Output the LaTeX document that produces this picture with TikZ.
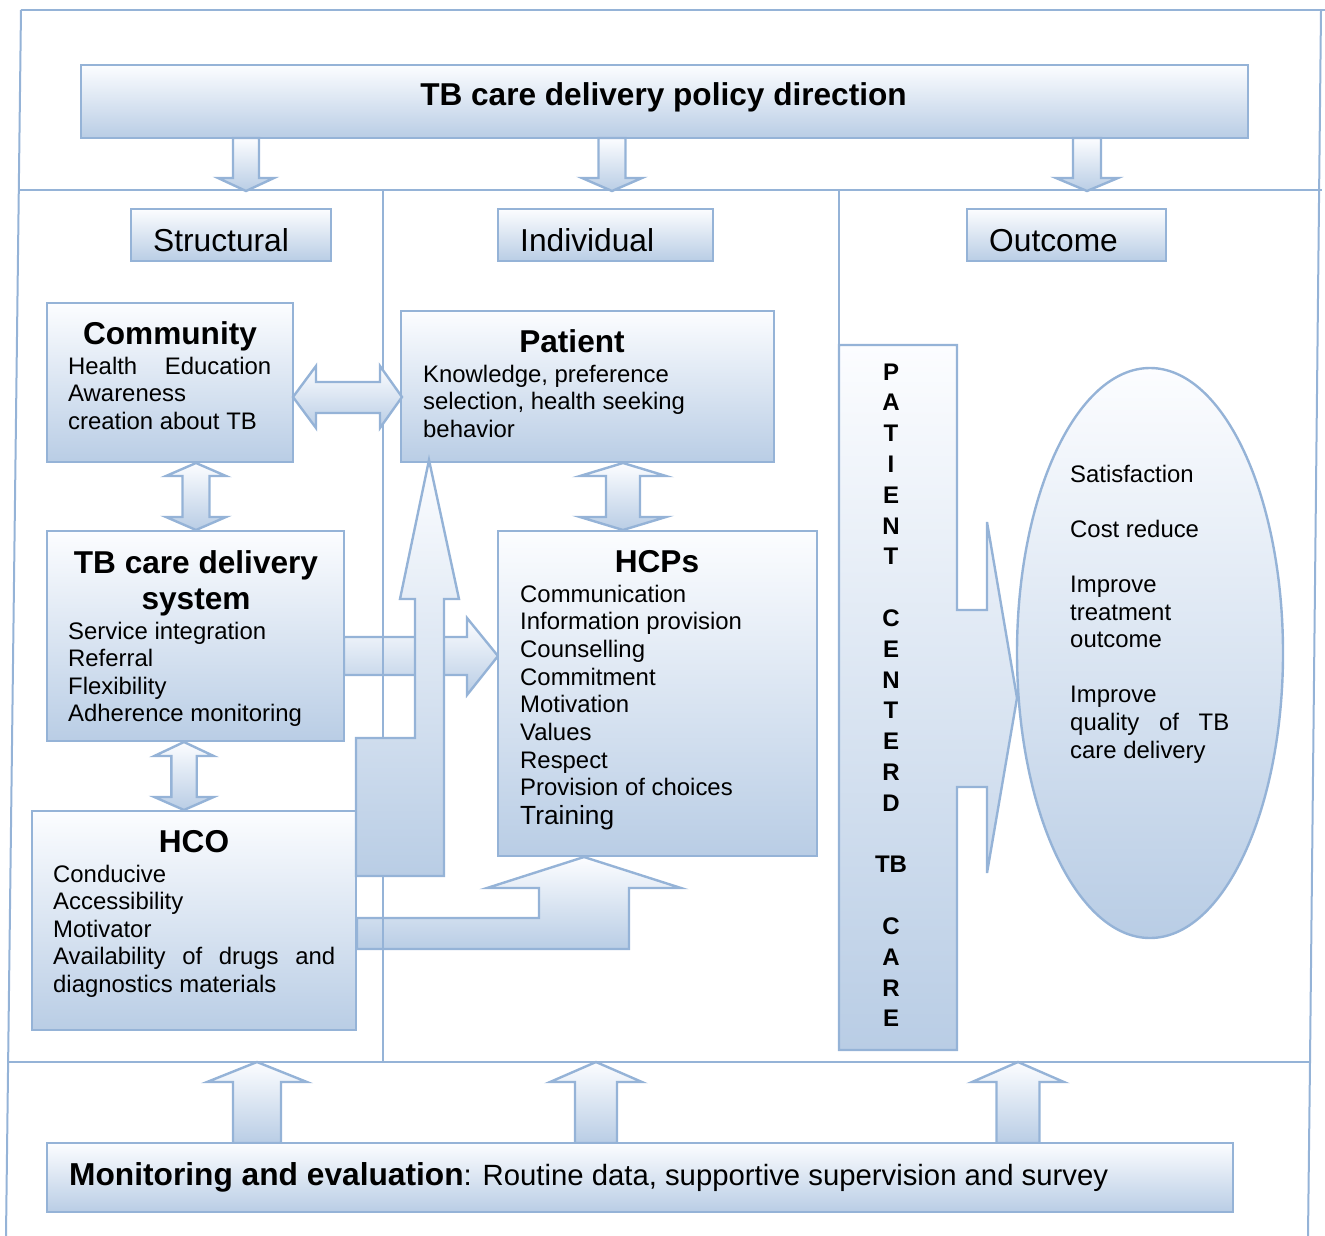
\documentclass[tikz,border=0pt]{standalone}
\usepackage{fontspec}
\setmainfont{Liberation Sans}
\definecolor{bfill}{RGB}{185,205,229}
\definecolor{bline}{RGB}{149,179,215}
\definecolor{btop}{RGB}{252,253,255}
\tikzset{
  grad/.style={top color=btop, bottom color=bfill, draw=bline, line width=2.4pt},
  boxnode/.style={grad, rectangle, inner sep=0pt, outer sep=0pt, anchor=north west},
  frameline/.style={draw=bline, line width=2pt},
  bodytxt/.style={inner sep=0pt, anchor=base west, font=\fontsize{23.9}{27.6}\selectfont},
  titletxt/.style={inner sep=0pt, anchor=base, font=\fontsize{31.6}{36}\selectfont\bfseries},
  headtxt/.style={inner sep=0pt, anchor=base west, font=\fontsize{31.7}{36}\selectfont}
}
% straight block arrow: cx, shaft end y, head base y, tip y, shaft half width, head half width
\newcommand{\vsarrow}[6]{%
  \draw[grad] (#1-#5,#2) -- (#1+#5,#2) -- (#1+#5,#3) -- (#1+#6,#3) -- (#1,#4) -- (#1-#6,#3) -- (#1-#5,#3) -- cycle;}
% vertical double block arrow: cx, tip1, base1, base2, tip2, shaft half, head half
\newcommand{\vdarrow}[7]{%
  \draw[grad] (#1,#2) -- (#1+#7,#3) -- (#1+#6,#3) -- (#1+#6,#4) -- (#1+#7,#4) -- (#1,#5) -- (#1-#7,#4) -- (#1-#6,#4) -- (#1-#6,#3) -- (#1-#7,#3) -- cycle;}
\begin{document}
\begin{tikzpicture}[x=1pt,y=-1pt]
\useasboundingbox (0,0) rectangle (1325,1236);

% arrows lying under the divider line
\draw[grad] (344,637) -- (467,637) -- (467,618) -- (498,656) -- (467,695) -- (467,675) -- (344,675) -- cycle;
\draw[grad] (357,918) -- (539,918) -- (539,888) -- (487,888) -- (584,857) -- (681,888) -- (629,888) -- (629,949) -- (357,949) -- cycle;

% frame and dividers
\draw[frameline] (21,10) -- (6,1236);
\draw[frameline] (21,10) -- (1325,10);
\draw[frameline] (1321,10) -- (1310,1062) -- (1308,1236);
\draw[frameline] (19,190) -- (1322,190);
\draw[frameline] (8,1062) -- (1310,1062);
\draw[frameline] (383,190) -- (383,1062);
\draw[frameline] (839,190) -- (839,345);

% policy box and header boxes
\node[boxnode, minimum width=1167pt, minimum height=73pt] (policy) at (81,65) {};
\node[titletxt] (policyT) at (663.5,106) {TB care delivery policy direction};
\vsarrow{246}{138}{178}{191}{13}{28}
\vsarrow{612}{138}{178}{191}{13.5}{30}
\vsarrow{1087}{138}{178}{191}{14}{31}

\node[boxnode, minimum width=200pt, minimum height=52pt] (structural) at (131,209) {};
\node[headtxt] (structuralT) at (153,251) {Structural};
\node[boxnode, minimum width=215pt, minimum height=52pt] (individual) at (498,209) {};
\node[headtxt] (individualT) at (520,251) {Individual};
\node[boxnode, minimum width=199pt, minimum height=52pt] (outcome) at (967,209) {};
\node[headtxt] (outcomeT) at (989,251) {Outcome};

% community
\node[boxnode, minimum width=246pt, minimum height=159pt] (community) at (47,303) {};
\node[titletxt] (communityT) at (170,344) {Community};
\node[bodytxt] (communityB) at (68,374) {\parbox[t]{203pt}{Health\hfill Education\\Awareness\\creation about TB}};

% patient
\node[boxnode, minimum width=373pt, minimum height=151pt] (patient) at (401,311) {};
\node[titletxt] (patientT) at (572,352) {Patient};
\node[bodytxt] (patientB) at (423,382) {\parbox[t]{340pt}{Knowledge, preference\\selection, health seeking\\behavior}};

% community <-> patient
\draw[grad] (293,397) -- (316,366) -- (316,382) -- (380,382) -- (380,366) -- (402,397) -- (380,428) -- (380,413) -- (316,413) -- (316,428) -- cycle;

% TB care delivery system
\node[boxnode, minimum width=297pt, minimum height=210pt] (tbcare) at (47,531) {};
\node[titletxt] (tbcareT) at (196,573) {\parbox[t]{300pt}{\centering\baselineskip=36pt TB care delivery\\system}};
\node[bodytxt] (tbcareB) at (68,639) {\parbox[t]{270pt}{Service integration\\Referral\\Flexibility\\Adherence monitoring}};

% HCO
\node[boxnode, minimum width=324pt, minimum height=219pt] (hco) at (32,811) {};
\node[titletxt] (hcoT) at (194,852) {HCO};
\node[bodytxt] (hcoB) at (53,882) {\parbox[t]{282pt}{Conducive\\Accessibility\\Motivator\\Availability\hfill of\hfill drugs\hfill and\\diagnostics materials}};

% HCPs
\node[boxnode, minimum width=319pt, minimum height=325pt] (hcps) at (498,531) {};
\node[titletxt] (hcpsT) at (657,572) {HCPs};
\node[bodytxt] (hcpsB) at (520,602) {\parbox[t]{290pt}{\baselineskip=27.7pt Communication\\Information provision\\Counselling\\Commitment\\Motivation\\Values\\Respect\\Provision of choices\\[1.3pt]{\fontsize{26.3}{27.7}\selectfont Training}}};

% vertical double arrows
\vdarrow{196}{463}{476}{517}{530}{13.5}{30}
\vdarrow{184}{742}{756}{797}{810}{12.7}{29.7}
\vdarrow{623}{463}{476}{517}{530}{17}{43}

% big bent arrow HCO -> patient
\draw[grad] (356,738) -- (415,738) -- (415,599) -- (400,599) -- (429,460) -- (459,599) -- (444,599) -- (444,876) -- (356,876) -- cycle;

% outcome ellipse and patient centred arrow
\draw[grad] (1150,653) ellipse [x radius=133, y radius=285];
\draw[grad] (839,345) -- (957,345) -- (957,610) -- (987,610) -- (987,522) -- (1017,698) -- (987,873) -- (987,787) -- (957,787) -- (957,1050) -- (839,1050) -- cycle;
\node[inner sep=0pt, anchor=base, font=\fontsize{24}{30.8}\selectfont\bfseries] (pctext) at (891,380) {\parbox[t]{80pt}{\centering P\\A\\T\\I\\E\\N\\T\\\mbox{}\\C\\E\\N\\T\\E\\R\\D\\\mbox{}\\TB\\\mbox{}\\C\\A\\R\\E}};
\node[bodytxt] (outcomeB) at (1070,482) {\parbox[t]{159pt}{Satisfaction\\\mbox{}\\Cost reduce\\\mbox{}\\Improve\\treatment\\outcome\\\mbox{}\\Improve\\quality\hfill of\hfill TB\\care delivery}};

% monitoring and evaluation
\vsarrow{257}{1143}{1082}{1062}{24}{50}
\vsarrow{596}{1143}{1082}{1062}{21}{46}
\vsarrow{1018}{1143}{1082}{1062}{21.5}{46}
\node[boxnode, minimum width=1186pt, minimum height=69pt] (mande) at (47,1143) {};
\node[inner sep=0pt, anchor=base west, font=\fontsize{29.3}{34}\selectfont] (mandeT) at (69,1185) {{\fontsize{31.7}{34}\selectfont\bfseries Monitoring and evaluation}: Routine data, supportive supervision and survey};
\end{tikzpicture}
\end{document}
